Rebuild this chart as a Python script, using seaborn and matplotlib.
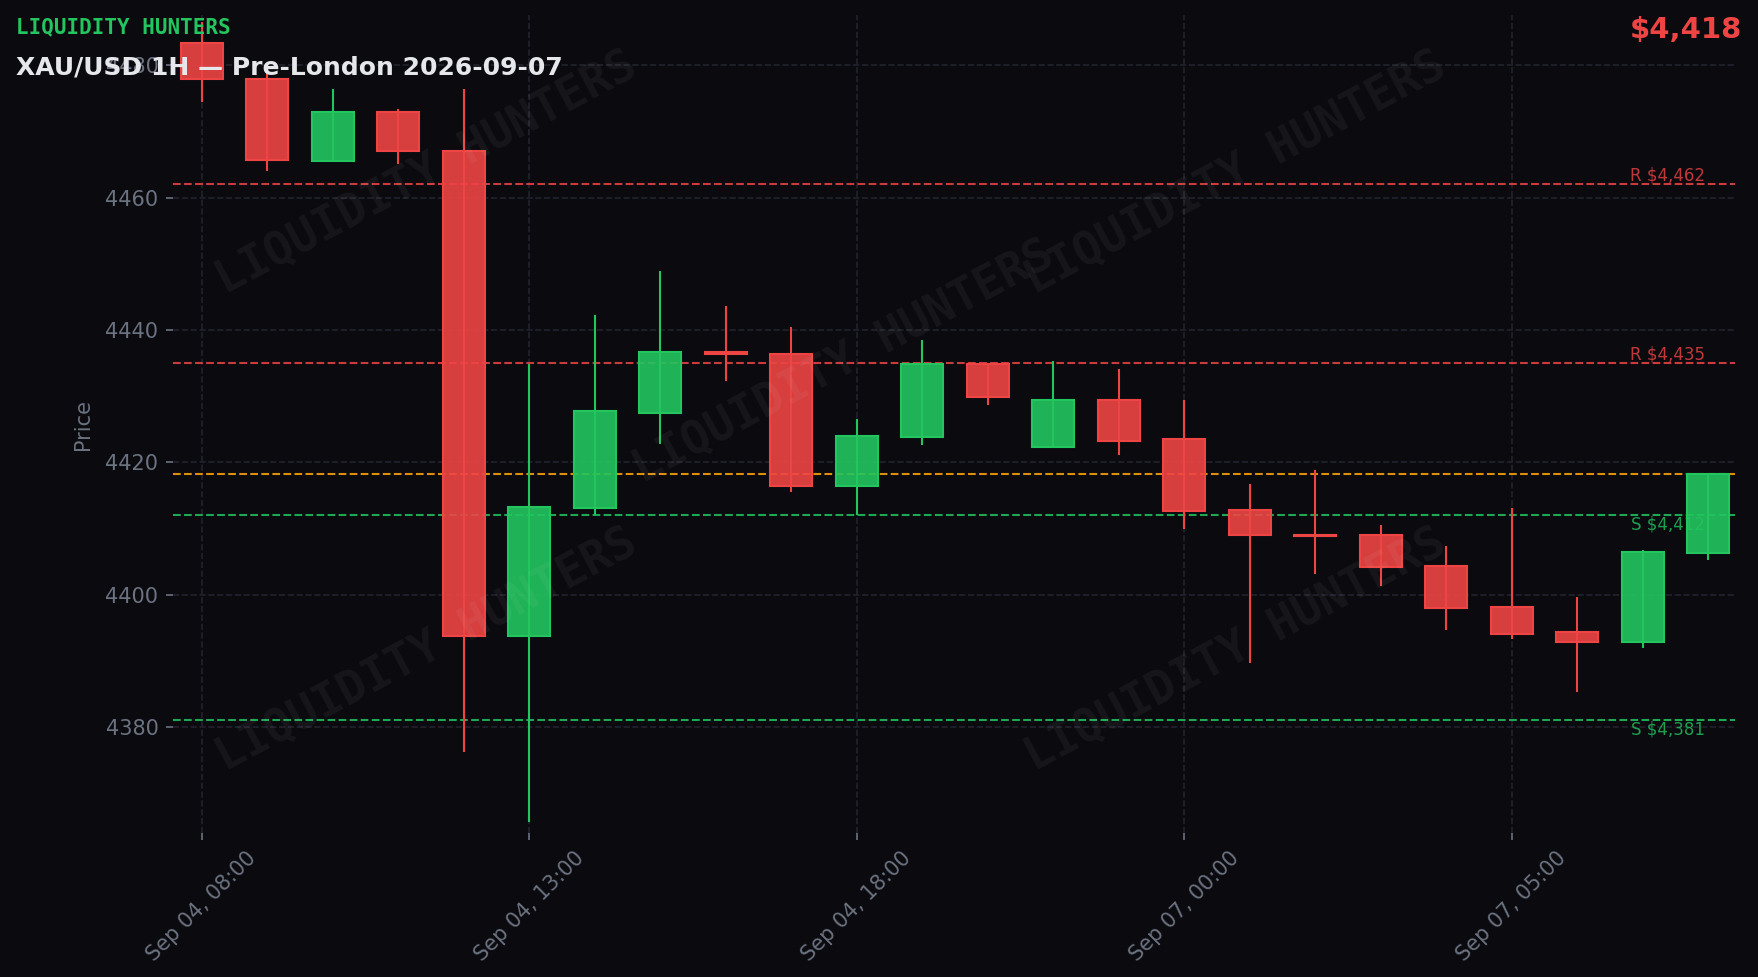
import pandas as pd
import seaborn as sns
import matplotlib.pyplot as plt
from matplotlib.colors import to_rgba

# hourly candles, weekend gap between Sep 04 22:00 and Sep 07 00:00
times = ['2026-09-04 08:00', '2026-09-04 09:00', '2026-09-04 10:00', '2026-09-04 11:00',
         '2026-09-04 12:00', '2026-09-04 13:00', '2026-09-04 14:00', '2026-09-04 15:00',
         '2026-09-04 16:00', '2026-09-04 17:00', '2026-09-04 18:00', '2026-09-04 19:00',
         '2026-09-04 20:00', '2026-09-04 21:00', '2026-09-04 22:00', '2026-09-07 00:00',
         '2026-09-07 01:00', '2026-09-07 02:00', '2026-09-07 03:00', '2026-09-07 04:00',
         '2026-09-07 05:00', '2026-09-07 06:00', '2026-09-07 07:00', '2026-09-07 08:00']
opens = [4483.4, 4478.0, 4465.5, 4473.0, 4467.1, 4393.7, 4413.1, 4427.5, 4436.7, 4436.4, 4416.5, 4423.9,
         4434.9, 4422.4, 4429.4, 4423.5, 4412.8, 4409.1, 4409.1, 4404.3, 4398.1, 4394.3, 4392.9, 4406.3]
highs = [4486.5, 4479.0, 4476.4, 4473.4, 4476.5, 4434.8, 4442.2, 4448.9, 4443.6, 4440.4, 4426.6, 4438.5,
         4435.0, 4435.3, 4434.1, 4429.5, 4416.8, 4418.9, 4410.6, 4407.4, 4413.1, 4399.7, 4406.8, 4418.3]
lows = [4474.5, 4464.1, 4465.4, 4465.1, 4376.2, 4365.6, 4412.0, 4422.8, 4432.3, 4415.6, 4412.0, 4422.6,
        4428.7, 4422.2, 4421.1, 4410.0, 4389.7, 4403.1, 4401.3, 4394.7, 4393.3, 4385.3, 4391.9, 4405.3]
closes = [4477.9, 4465.7, 4473.0, 4467.0, 4393.7, 4413.3, 4427.7, 4436.7, 4436.4, 4416.5, 4424.0, 4434.9,
          4429.9, 4429.4, 4423.3, 4412.7, 4409.1, 4408.9, 4404.2, 4398.0, 4394.1, 4392.9, 4406.5, 4418.2]

resistance = [4462, 4435]
support = [4412, 4381]
current_price = 4418.2

BG = '#0a0a0f'
GREEN = '#22c55e'
RED = '#ef4444'
ORANGE = '#f59e0b'
MUTED = '#6b7280'

sns.set_theme(style='dark')
plt.rcParams.update({
    'figure.facecolor': BG,
    'axes.facecolor': BG,
    'savefig.facecolor': BG,
    'axes.edgecolor': BG,
    'axes.labelcolor': MUTED,
    'xtick.color': MUTED,
    'ytick.color': MUTED,
    'xtick.bottom': True,
    'ytick.left': True,
    'text.color': '#e5e7eb',
    'font.family': ['DejaVu Sans'],
})

df = pd.DataFrame({'time': pd.to_datetime(times), 'open': opens, 'high': highs,
                   'low': lows, 'close': closes})
df['x'] = range(len(df))
df['color'] = [GREEN if c >= o else RED for o, c in zip(df['open'], df['close'])]

fig, ax = plt.subplots(figsize=(1758 / 150, 977 / 150), dpi=150)
fig.subplots_adjust(left=0.0984, right=0.987, bottom=0.1474, top=0.9846)

ax.grid(True, color='#22232d', linestyle='--', linewidth=0.8)
ax.set_axisbelow(True)

# wicks then bodies
ax.vlines(df['x'], df['low'], df['high'], colors=df['color'], linewidth=1.0, zorder=2)
ax.bar(df['x'], df['close'] - df['open'], bottom=df['open'], width=0.64,
       color=[to_rgba(c, 0.9) for c in df['color']], edgecolor=df['color'],
       linewidth=1.0, zorder=3)

last = len(df) - 1
for lvl in resistance:
    ax.axhline(lvl, color=RED, linestyle='--', linewidth=1.0, alpha=0.85, zorder=1)
    ax.text(last - 0.05, lvl, f'R ${lvl:,.0f}', ha='right', va='bottom', fontsize=8, color=RED, alpha=0.8)
for lvl in support:
    ax.axhline(lvl, color=GREEN, linestyle='--', linewidth=1.0, alpha=0.85, zorder=1)
    ax.text(last - 0.05, lvl, f'S ${lvl:,.0f}', ha='right', va='top', fontsize=8, color=GREEN, alpha=0.8)
ax.axhline(current_price, color=ORANGE, linestyle='--', linewidth=1.0, alpha=0.9, zorder=1)

# watermark
for wx, wy in [(0.162, 0.807), (0.68, 0.807), (0.429, 0.576), (0.162, 0.223), (0.68, 0.223)]:
    ax.text(wx, wy, 'LIQUIDITY HUNTERS', transform=ax.transAxes, rotation=28,
            ha='center', va='center', fontsize=22, family='DejaVu Sans Mono',
            fontweight='bold', color='white', alpha=0.05, zorder=5)

ticks = list(range(0, len(df), 5))
ax.set_xticks(ticks)
ax.set_xticklabels([df['time'][i].strftime('%b %d, %H:%M') for i in ticks], rotation=45)
ax.tick_params(labelsize=10, length=3.5, width=0.8)
ax.set_xlim(-0.44, last + 0.41)
ax.set_ylim(df['low'].min() - 1.6, df['high'].max() + 1.1)
ax.set_ylabel('Price', fontsize=10, labelpad=6)
ax.set_xlabel('')
for s in ax.spines.values():
    s.set_visible(False)

fig.text(0.0089, 0.966, 'LIQUIDITY HUNTERS', family='DejaVu Sans Mono', fontweight='bold',
         fontsize=10, color=GREEN, va='baseline')
fig.text(0.0089, 0.924, 'XAU/USD 1H — Pre-London 2026-09-07', fontweight='bold',
         fontsize=12, color='#e5e7eb', va='baseline')
fig.text(0.991, 0.961, f'${current_price:,.0f}', ha='right', va='baseline', fontweight='bold',
         fontsize=14, color=RED)

fig.savefig('out.png', dpi=150)
